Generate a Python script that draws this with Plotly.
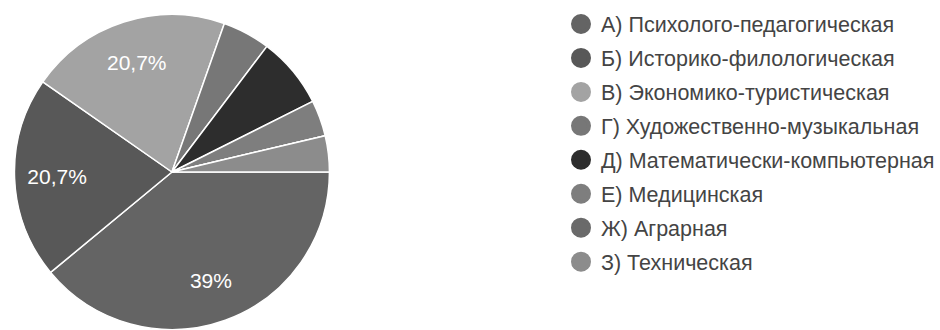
import plotly.graph_objects as go

# Survey answers: share of respondents per profile (percent)
labels = [
    "А) Психолого-педагогическая",
    "Б) Историко-филологическая",
    "В) Экономико-туристическая",
    "Г) Художественно-музыкальная",
    "Д) Математически-компьютерная",
    "Е) Медицинская",
    "Ж) Аграрная",
    "З) Техническая",
]
shares = [39.0, 20.7, 20.7, 4.9, 7.3, 3.7, 0.0, 3.7]
colors = ["#646464", "#585858", "#a3a3a3", "#777777",
          "#2d2d2d", "#7e7e7e", "#6a6a6a", "#8c8c8c"]

# Only the big slices carry a label, with a comma as decimal separator
slice_text = [(f"{v:g}%".replace(".", ",") if v >= 10 else "") for v in shares]

W, H = 940, 330
cx, cy_top, r = 172.5, 172.0, 158.0
pie_domain = dict(x=[(cx - r) / W, (cx + r) / W],
                  y=[(H - cy_top - r) / H, (H - cy_top + r) / H])
font_family = "Liberation Sans, Arial, sans-serif"

fig = go.Figure()

# Filled slices
fig.add_trace(go.Pie(
    labels=labels,
    values=shares,
    textinfo="none",
    marker=dict(colors=colors, line=dict(color="#ffffff", width=1.5)),
    sort=False,
    direction="clockwise",
    rotation=90,
    showlegend=False,
    hoverinfo="label+percent",
    domain=pie_domain,
))

# Transparent ring on top that carries the percentage labels out toward the rim
fig.add_trace(go.Pie(
    labels=labels,
    values=shares,
    hole=0.46,
    text=slice_text,
    texttemplate="%{text}",
    textposition="inside",
    insidetextorientation="horizontal",
    textfont=dict(family=font_family, size=21, color="#ffffff"),
    marker=dict(colors=["rgba(0,0,0,0)"] * len(labels),
                line=dict(color="rgba(0,0,0,0)", width=0)),
    sort=False,
    direction="clockwise",
    rotation=90,
    showlegend=False,
    hoverinfo="skip",
    domain=pie_domain,
))

# Legend entries with round markers
for i, (lab, col) in enumerate(zip(labels, colors)):
    fig.add_trace(go.Scatter(
        x=[None], y=[None], mode="markers", name=lab,
        legendgroup=f"g{i}",
        marker=dict(symbol="circle", size=16, color=col,
                    line=dict(color=col, width=4)),
        hoverinfo="skip",
    ))

fig.update_layout(
    width=W, height=H,
    margin=dict(l=0, r=0, t=0, b=0),
    paper_bgcolor="#ffffff",
    plot_bgcolor="#ffffff",
    xaxis=dict(visible=False),
    yaxis=dict(visible=False),
    legend=dict(
        x=563 / W, y=1 - 3.5 / H, xanchor="left", yanchor="top",
        font=dict(family=font_family, size=21.5, color="#444444"),
        tracegroupgap=3,
        traceorder="grouped",
        bgcolor="rgba(0,0,0,0)",
    ),
)

fig.write_html("out.html")
